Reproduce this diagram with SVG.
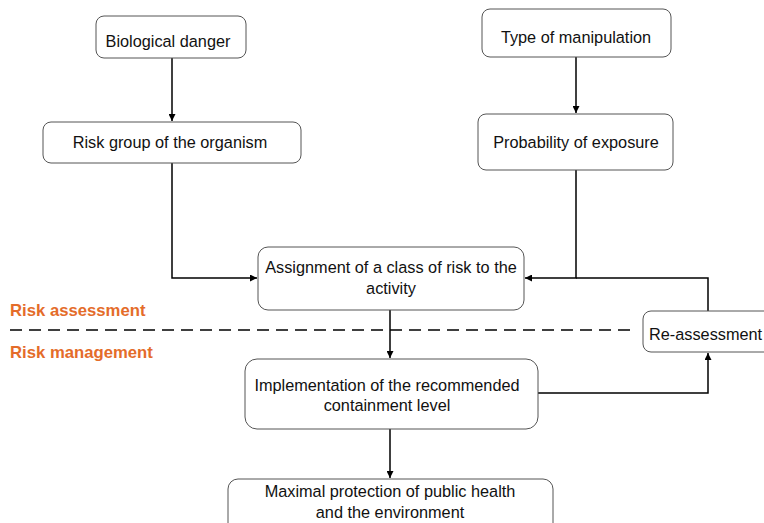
<svg xmlns="http://www.w3.org/2000/svg" width="764" height="523" viewBox="0 0 764 523">
<style>
.box{fill:#fff;stroke:#555;stroke-width:1}
.t{font-family:"Liberation Sans",Arial,sans-serif;font-size:16.3px;fill:#111;text-anchor:middle}
.lbl{font-family:"Liberation Sans",Arial,sans-serif;font-size:16.7px;font-weight:bold;fill:#E46C2A}
.c{fill:none;stroke:#000;stroke-width:1.5}
</style>
<defs>
<marker id="ah" viewBox="0 0 10 10" refX="10" refY="5" markerWidth="7" markerHeight="7" orient="auto" markerUnits="userSpaceOnUse"><path d="M0,0L10,5L0,10z" fill="#000"/></marker>
</defs>
<rect width="764" height="523" fill="#fff"/>
<text class="lbl" x="10" y="316">Risk assessment</text>
<text class="lbl" x="10" y="358">Risk management</text>
<line x1="10" y1="330" x2="634" y2="330" stroke="#000" stroke-width="1.5" stroke-dasharray="12,7"/>
<g id="connectors">
<path class="c" d="M172,58V121" marker-end="url(#ah)"/>
<path class="c" d="M576,57V113" marker-end="url(#ah)"/>
<path class="c" d="M172,163V278H257" marker-end="url(#ah)"/>
<path class="c" d="M576,170V278H525" marker-end="url(#ah)"/>
<path class="c" d="M708,311V278H576"/>
<path class="c" d="M390,310V358" marker-end="url(#ah)"/>
<path class="c" d="M538,393H708V353" marker-end="url(#ah)"/>
<path class="c" d="M390,429V478" marker-end="url(#ah)"/>
</g>
<g id="n1"><rect class="box" x="96" y="16" width="150" height="42" rx="8"/><text class="t" x="168" y="47">Biological danger</text></g>
<g id="n2"><rect class="box" x="43" y="122" width="258" height="41" rx="8"/><text class="t" x="170" y="148">Risk group of the organism</text></g>
<g id="n3"><rect class="box" x="482" y="9" width="189" height="48" rx="8"/><text class="t" x="576" y="43">Type of manipulation</text></g>
<g id="n4"><rect class="box" x="478" y="114" width="195" height="56" rx="8"/><text class="t" x="576" y="148">Probability of exposure</text></g>
<g id="n5"><rect class="box" x="258" y="247" width="266" height="63" rx="10"/><text class="t" x="391" y="273">Assignment of a class of risk to the</text><text class="t" x="391" y="294">activity</text></g>
<g id="n6"><rect class="box" x="643" y="311" width="130" height="41" rx="8"/><text class="t" x="649" y="340" style="text-anchor:start">Re-assessment</text></g>
<g id="n7"><rect class="box" x="245" y="359" width="293" height="70" rx="12"/><text class="t" x="387" y="391">Implementation of the recommended</text><text class="t" x="387" y="411">containment level</text></g>
<g id="n8"><rect class="box" x="228" y="479" width="325" height="60" rx="10"/><text class="t" x="390" y="497">Maximal protection of public health</text><text class="t" x="390" y="518">and the environment</text></g>
</svg>
